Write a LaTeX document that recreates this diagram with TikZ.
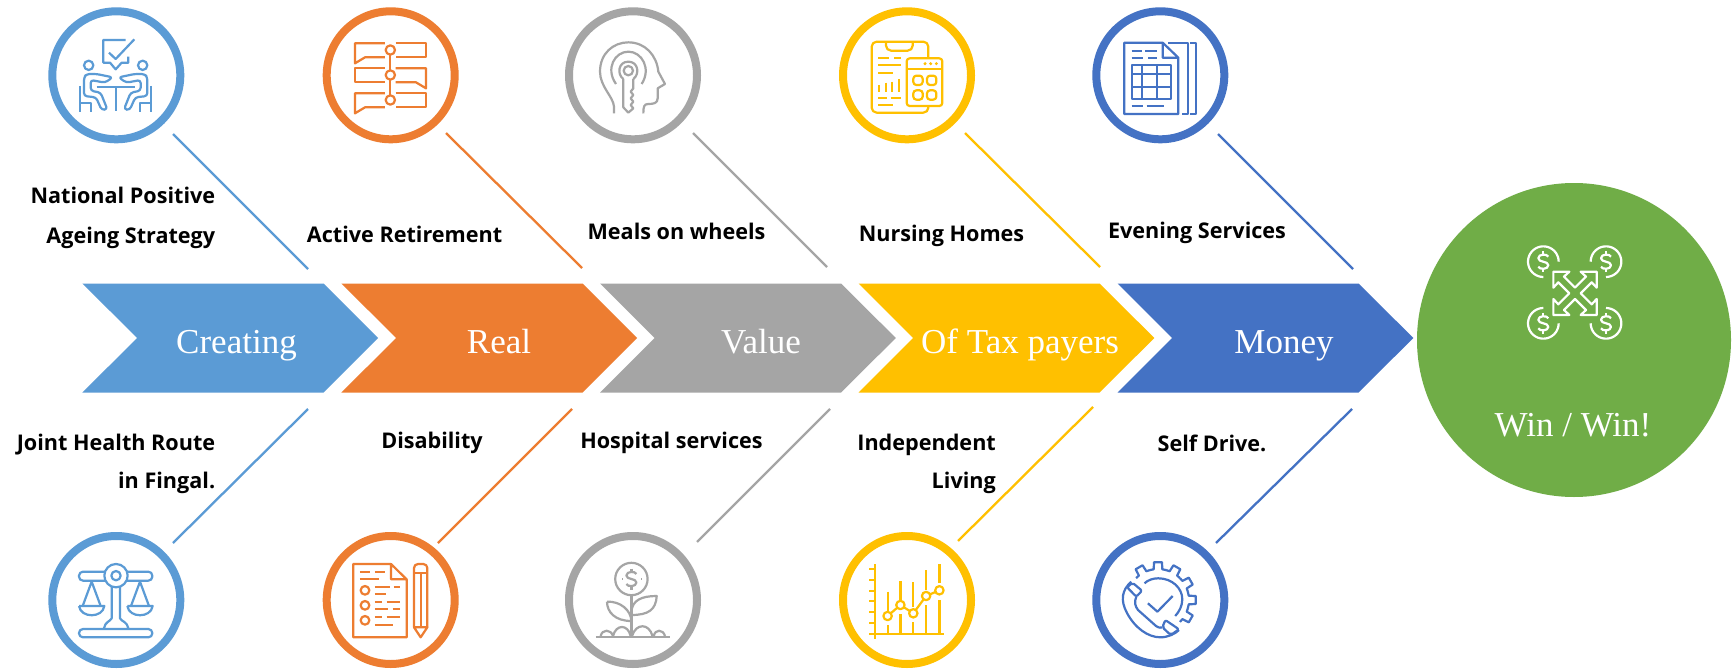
\documentclass[tikz,border=0pt]{standalone}
\usepackage{fontspec}
\newfontfamily\labelfont{Open Sans}
\newfontfamily\headfont{Liberation Serif}
\definecolor{lightblue}{HTML}{5B9BD5}
\definecolor{ochre}{HTML}{ED7D31}
\definecolor{midgray}{HTML}{A5A5A5}
\definecolor{gold}{HTML}{FFC000}
\definecolor{darkblue}{HTML}{4472C4}
\definecolor{leaf}{HTML}{70AD47}
\tikzset{
  ring/.style={circle, draw=#1, line width=8pt, fill=white, inner sep=0pt, minimum size=128pt},
  spoke/.style={draw=#1, line width=2.3pt},
  icon/.style={draw=#1, line width=2.2pt, line join=round},
  sidetext/.style={font=\labelfont\bfseries\fontsize{21.6}{40}\selectfont, text=black, inner sep=0pt},
  headtext/.style={font=\headfont\fontsize{35}{40}\selectfont, text=white, inner sep=0pt, anchor=base},
}
\newcommand{\dollarmark}[3]{
  \begin{scope}[shift={(#1,#2)}, icon=#3]
    \draw (5,-5) .. controls (4,-8) and (-5,-8) .. (-5,-3.5) .. controls (-5,1) and (5,-1) .. (5,3.5) .. controls (5,8) and (-4,8) .. (-5,5);
    \draw (0,-10.5) -- (0,-7.5);
    \draw (0,7.5) -- (0,10.5);
  \end{scope}
}
\begin{document}
\begin{tikzpicture}[x=1pt, y=-1pt]
  \useasboundingbox (0,0) rectangle (1735,669);
  \fill[white] (0,0) rectangle (1735,669);
  % chevrons
  \fill[lightblue] (82.4,283.5) -- (323.5,283.5) -- (378.2,338) -- (323.5,392.5) -- (82.4,392.5) -- (137.1,338) -- cycle;
  \fill[ochre] (341.4,283.5) -- (582.5,283.5) -- (637.2,338) -- (582.5,392.5) -- (341.4,392.5) -- (396.1,338) -- cycle;
  \fill[midgray] (600,283.5) -- (841.1,283.5) -- (895.8,338) -- (841.1,392.5) -- (600,392.5) -- (654.7,338) -- cycle;
  \fill[gold] (858.5,283.5) -- (1099.6,283.5) -- (1154.3,338) -- (1099.6,392.5) -- (858.5,392.5) -- (913.2,338) -- cycle;
  \fill[darkblue] (1117.5,283.5) -- (1358.6,283.5) -- (1413.3,338) -- (1358.6,392.5) -- (1117.5,392.5) -- (1172.2,338) -- cycle;
  \node[headtext] (creating) at (236.5,353) {Creating};
  \node[headtext] (real) at (499,353) {Real};
  \node[headtext] (value) at (761,353) {Value};
  \node[headtext] (taxpayers) at (1020,353) {Of Tax payers};
  \node[headtext] (money) at (1284,353) {Money};
  % result
  \node[circle, fill=leaf, inner sep=0pt, minimum size=314pt] (result) at (1574,340) {};
  \node[headtext] (winwin) at (1573,436.5) {Win / Win!};
  % rings
  \node[ring=lightblue] (ringa) at (116.3,75.3) {};
  \node[ring=ochre] (ringb) at (390.7,75.3) {};
  \node[ring=midgray] (ringc) at (633,75.3) {};
  \node[ring=gold] (ringd) at (907,75.3) {};
  \node[ring=darkblue] (ringe) at (1160.3,75.3) {};
  \node[ring=lightblue] (ringf) at (116.3,600) {};
  \node[ring=ochre] (ringg) at (390.7,600) {};
  \node[ring=midgray] (ringh) at (633,600) {};
  \node[ring=gold] (ringi) at (907,600) {};
  \node[ring=darkblue] (ringj) at (1160.3,600) {};
  % top spokes
  \coordinate (ta1) at (173,134);
  \coordinate (ta2) at (308,269);
  \coordinate (tb1) at (446,133);
  \coordinate (tb2) at (582,268);
  \coordinate (tc1) at (693,133);
  \coordinate (tc2) at (827,267);
  \coordinate (td1) at (965,133);
  \coordinate (td2) at (1100,267);
  \coordinate (te1) at (1218,134);
  \coordinate (te2) at (1353,269);
  \draw[spoke=lightblue] (ta1) -- (ta2);
  \draw[spoke=ochre] (tb1) -- (tb2);
  \draw[spoke=midgray] (tc1) -- (tc2);
  \draw[spoke=gold] (td1) -- (td2);
  \draw[spoke=darkblue] (te1) -- (te2);
  % bottom spokes
  \coordinate (ba1) at (173,543);
  \coordinate (ba2) at (308,409);
  \coordinate (bb1) at (438,543);
  \coordinate (bb2) at (572,409);
  \coordinate (bc1) at (697,542);
  \coordinate (bc2) at (830,409);
  \coordinate (bd1) at (958,541);
  \coordinate (bd2) at (1093,407);
  \coordinate (be1) at (1216,543);
  \coordinate (be2) at (1352,409);
  \draw[spoke=lightblue] (ba1) -- (ba2);
  \draw[spoke=ochre] (bb1) -- (bb2);
  \draw[spoke=midgray] (bc1) -- (bc2);
  \draw[spoke=gold] (bd1) -- (bd2);
  \draw[spoke=darkblue] (be1) -- (be2);
  % labels
  \node[sidetext, align=right, anchor=east] (positive) at (215.4,218) {National Positive\\Ageing Strategy};
  \node[sidetext] (retirement) at (404.6,234) {Active Retirement};
  \node[sidetext] (meals) at (676.5,231) {Meals on wheels};
  \node[sidetext] (nursing) at (941.5,236) {Nursing Homes};
  \node[sidetext] (evening) at (1197,233) {Evening Services};
  \node[sidetext, align=right, anchor=east] (joint) at (215.4,463.5) {Joint Health Route\\[-2pt]in Fingal.};
  \node[sidetext] (disability) at (432,443) {Disability};
  \node[sidetext] (hospital) at (671.5,443) {Hospital services};
  \node[sidetext, align=right, anchor=east] (independent) at (996,463.5) {Independent\\[-2pt]Living};
  \node[sidetext] (selfdrive) at (1212,443) {Self Drive.};
  % meeting icon
  \begin{scope}[shift={(30,0)}, scale=1/3, icon=lightblue]
    \draw (287,120) -- (220,120) -- (220,188) -- (240,188) -- (257,208) -- (275,188) -- (295,188) -- (295,170);
    \draw (237,158) -- (257,177) -- (313,118);
    \draw (176,196) circle (14);
    \draw (338,196) circle (14);
    \draw[rounded corners=3pt] (248,232) -- (200,222) -- (170,222) -- (162,232) -- (162,288) -- (198,292) -- (215,330) -- (232,328) -- (212,278) -- (182,272) -- (182,240) -- (225,248) -- cycle;
    \draw[rounded corners=3pt] (266,232) -- (314,222) -- (344,222) -- (352,232) -- (352,288) -- (316,292) -- (299,330) -- (282,328) -- (302,278) -- (332,272) -- (332,240) -- (289,248) -- cycle;
    \draw (200,262) -- (315,262);
    \draw (257,262) -- (257,333);
    \draw (150,258) -- (150,335);
    \draw (150,308) -- (183,308) -- (183,335);
    \draw (364,258) -- (364,335);
    \draw (364,308) -- (331,308) -- (331,335);
  \end{scope}
  % timeline icon
  \begin{scope}[shift={(30,0)}, scale=1/3, icon=ochre]
    \draw (1065,130) -- (975,130) -- (975,190) -- (1005,172) -- (1065,172);
    \draw (1065,205) -- (975,205) -- (975,247) -- (1065,247);
    \draw (1065,280) -- (975,280) -- (975,340) -- (1005,322) -- (1065,322);
    \draw (1097,130) -- (1188,130) -- (1188,172) -- (1097,172);
    \draw (1097,205) -- (1188,205) -- (1188,265) -- (1158,247) -- (1097,247);
    \draw (1097,280) -- (1188,280) -- (1188,322) -- (1097,322);
    \draw (1081,150) -- (1081,300);
    \draw[fill=white] (1081,150) circle (14);
    \draw[fill=white] (1081,225) circle (14);
    \draw[fill=white] (1081,300) circle (14);
  \end{scope}
  % head icon
  \begin{scope}[shift={(490,0)}, scale=1/3, icon=midgray]
    \draw (372,340) -- (372,320) .. controls (370,290) and (330,260) .. (330,215) .. controls (330,160) and (370,127) .. (415,127) .. controls (465,127) and (500,165) .. (505,215) -- (525,252) -- (503,265) -- (503,295) .. controls (503,310) and (490,312) .. (475,312) .. controls (462,312) and (460,320) .. (460,340);
    \draw (378,252) .. controls (345,205) and (375,155) .. (415,155) .. controls (455,155) and (485,205) .. (455,252);
    \draw (400,237) .. controls (380,222) and (385,185) .. (415,185) .. controls (445,185) and (450,222) .. (430,237);
    \draw (415,212) circle (14);
    \draw (400,237) -- (400,322) -- (415,338) -- (430,325) -- (422,315) -- (430,305) -- (422,295) -- (430,285) -- (422,275) -- (430,265) -- (430,237);
  \end{scope}
  % calculator icon
  \begin{scope}[shift={(860,10)}, scale=1/3, icon=gold]
    \draw[rounded corners=5pt] (205,143) -- (205,95) -- (35,95) -- (35,308) -- (205,308) -- (205,288);
    \draw[rounded corners=5pt] (78,97) -- (78,122) -- (158,122) -- (158,97);
    \draw[rounded corners=3pt] (140,145) rectangle (247,288);
    \draw (140,178) -- (247,178);
    \fill[gold] (195,161) circle (5);
    \fill[gold] (212,161) circle (5);
    \fill[gold] (229,161) circle (5);
    \draw[rounded corners=3pt] (160,197) rectangle (188,225);
    \draw[rounded corners=3pt] (201,197) rectangle (229,225);
    \draw[rounded corners=3pt] (160,241) rectangle (188,269);
    \draw[rounded corners=3pt] (201,241) rectangle (229,269);
    \draw (55,144) -- (87,144);
    \draw (102,144) -- (122,144);
    \draw (55,166) -- (122,166);
    \draw (55,188) -- (100,188);
    \draw (58,225) -- (58,245);
    \draw (77,218) -- (77,245);
    \draw (97,215) -- (97,245);
    \draw (118,207) -- (118,245);
    \draw (55,264) -- (80,264);
    \draw (92,264) -- (122,264);
    \draw (55,285) -- (100,285);
  \end{scope}
  % sheet icon
  \begin{scope}[shift={(860,10)}, scale=1/3, icon=darkblue]
    \draw (908,98) -- (793,98) -- (793,312) -- (955,312) -- (955,143) -- (908,98) -- (908,143) -- (955,143);
    \draw (925,98) -- (985,98) -- (985,312) -- (965,312);
    \draw (990,98) -- (1008,98) -- (1008,312) -- (990,312);
    \draw (815,122) -- (845,122);
    \draw (855,122) -- (890,122);
    \draw (815,143) -- (850,143);
    \draw (865,143) -- (890,143);
    \draw (815,288) -- (850,288);
    \draw (860,288) -- (912,288);
    \draw (817,165) rectangle (934,266);
    \draw (845,165) -- (845,266);
    \draw (890,165) -- (890,266);
    \draw (817,192) -- (934,192);
    \draw (817,230) -- (934,230);
  \end{scope}
  % scales icon
  \begin{scope}[shift={(60,540)}, scale=1/3, icon=lightblue]
    \draw[rounded corners=4pt] (57,95) rectangle (277,122);
    \draw[rounded corners=4pt] (57,267) rectangle (277,292);
    \draw (155,140) -- (155,235) .. controls (150,245) and (135,245) .. (132,265);
    \draw (180,140) -- (180,235) .. controls (185,245) and (202,245) .. (205,265);
    \draw[fill=white] (168,107) circle (35);
    \draw (168,107) circle (14);
    \draw (68,198) -- (95,125) -- (122,198);
    \draw (213,198) -- (240,125) -- (267,198);
    \draw (57,198) -- (133,198) .. controls (128,235) and (62,235) .. (57,198);
    \draw (202,198) -- (278,198) .. controls (273,235) and (207,235) .. (202,198);
  \end{scope}
  % checklist icon
  \begin{scope}[shift={(60,540)}, scale=1/3, icon=ochre]
    \draw (993,72) -- (880,72) -- (880,292) -- (1040,292) -- (1040,118) -- (993,72) -- (993,118) -- (1040,118);
    \draw (900,95) -- (930,95);
    \draw (945,95) -- (975,95);
    \draw (900,118) -- (957,118);
    \draw (915,151) circle (13);
    \draw (915,196) circle (13);
    \draw (915,241) circle (13);
    \draw (945,140) -- (990,140);
    \draw (1002,140) -- (1020,140);
    \draw (945,162) -- (978,162);
    \draw (945,185) -- (965,185);
    \draw (980,185) -- (1020,185);
    \draw (945,208) -- (985,208);
    \draw (998,208) -- (1020,208);
    \draw (945,231) -- (965,231);
    \draw (980,231) -- (1020,231);
    \draw (945,254) -- (998,254);
    \draw[rounded corners=4pt] (1062,262) -- (1062,72) -- (1102,72) -- (1102,262);
    \draw (1062,262) -- (1082,292) -- (1102,262) -- cycle;
    \draw (1062,100) -- (1102,100);
    \draw (1082,100) -- (1082,262);
  \end{scope}
  % plant icon
  \begin{scope}[icon=midgray]
    \draw (631.4,579) circle (16.2);
    \draw (622,579) -- (622.5,579);
    \draw (641,579) -- (641.5,579);
    \draw (631.4,595) -- (631.4,637);
    \draw (631.4,612) .. controls (632,600) and (642,596) .. (656.7,596) .. controls (656,610) and (648,615) .. (631.4,615);
    \draw (607,601.7) .. controls (620,601) and (631,610) .. (631.4,621) .. controls (615,621) and (607,612) .. (607,601.7);
    \draw (595.8,637) -- (670,637);
    \draw (600.7,636) .. controls (602,629) and (611,629) .. (613,636);
    \draw (613,636) .. controls (616,624) and (628,624) .. (630.6,636);
    \draw (632,636) .. controls (636,623) and (649,623) .. (652.5,636);
    \draw (653.8,636) .. controls (655,629) and (663,629) .. (665,636);
  \end{scope}
  \dollarmark{631.4}{579}{midgray}
  % chart icon
  \begin{scope}[icon=gold]
    \draw (874.7,564) -- (874.7,638.7);
    \draw (869.3,569.3) -- (874.7,569.3);
    \draw (869.3,580) -- (874.7,580);
    \draw (869.3,590.7) -- (874.7,590.7);
    \draw (869.3,601.3) -- (874.7,601.3);
    \draw (869.3,612) -- (874.7,612);
    \draw (869.3,622.7) -- (874.7,622.7);
    \draw (869.3,633.7) -- (944,633.7);
    \draw (887.6,591.7) -- (887.6,610.7);
    \draw (887.6,625) -- (887.6,633.7);
    \draw (900.4,581.3) -- (900.4,600);
    \draw (900.4,614) -- (900.4,633.7);
    \draw (913.3,582.3) -- (913.3,606.7);
    \draw (913.3,622) -- (913.3,633.7);
    \draw (926.1,570.3) -- (926.1,590);
    \draw (926.1,605.3) -- (926.1,633.7);
    \draw (939.4,564) -- (939.4,583.3);
    \draw (939.4,600) -- (939.4,633.7);
    \draw (887.6,616) -- (900.4,605) -- (913.3,613.3) -- (926.1,596) -- (939.4,590.3);
    \draw[fill=white] (887.6,616) circle (4.2);
    \draw[fill=white] (900.4,605) circle (4.2);
    \draw[fill=white] (913.3,613.3) circle (4.2);
    \draw[fill=white] (926.1,596) circle (4.2);
    \draw[fill=white] (939.4,590.3) circle (4.2);
  \end{scope}
  % support icon
  \begin{scope}[shift={(1158,600)}, icon=darkblue]
    \foreach \ang in {-120,-90,-60,-30,0,30} {
      \draw (\ang-15:31) -- (\ang-8:31) -- (\ang-6:38) -- (\ang+6:38) -- (\ang+8:31) -- (\ang+15:31);
    }
  \end{scope}
  \begin{scope}[icon=darkblue]
    \draw (1147.9,603.3) -- (1157.4,611.7) -- (1172.7,596);
    \draw (1144.5,583.3) .. controls (1148,580) and (1153,578.3) .. (1158.2,578.3) .. controls (1172,578.3) and (1182.3,588) .. (1182.3,599.3) .. controls (1182.3,606) and (1179,612) .. (1175.2,616);
    \draw (1131.2,581.7) .. controls (1122,590) and (1120,600) .. (1127,613) .. controls (1135,628) and (1148,637.3) .. (1160.3,637.3) .. controls (1168,637.3) and (1175,634) .. (1179,630);
    \draw[rounded corners=2pt] (1127.1,587.3) -- (1132.5,582.7) -- (1142,590.7) -- (1136.3,596.7) -- cycle;
    \draw[rounded corners=2pt] (1165.3,620) -- (1179,629.3) -- (1170.7,635) -- (1162.4,627.3) -- cycle;
    \draw (1136.3,596.7) .. controls (1134,602) and (1135,606) .. (1138,610) -- (1156,626) .. controls (1159,628) and (1161,628) .. (1162.4,627.3);
  \end{scope}
  % exchange icon
  \begin{scope}[shift={(1490,220)}, scale=1/3, icon=white]
    \draw plot[samples=30, domain=90:360] ({160+46*cos(\x)},{125+46*sin(\x)});
    \draw plot[samples=30, domain=180:450] ({348+46*cos(\x)},{125+46*sin(\x)});
    \draw plot[samples=30, domain=0:270] ({160+46*cos(\x)},{310+46*sin(\x)});
    \draw plot[samples=30, domain=-90:180] ({348+46*cos(\x)},{310+46*sin(\x)});
    \draw (190,155) -- (238,155) -- (222,170) -- (255,203) -- (288,170) -- (272,155) -- (320,155) -- (320,203) -- (305,187) -- (272,220) -- (305,253) -- (320,237) -- (320,285) -- (272,285) -- (288,270) -- (255,237) -- (222,270) -- (238,285) -- (190,285) -- (190,237) -- (205,253) -- (238,220) -- (205,187) -- (190,203) -- cycle;
  \end{scope}
  \dollarmark{1543.3}{261.7}{white}
  \dollarmark{1606}{261.7}{white}
  \dollarmark{1543.3}{323.3}{white}
  \dollarmark{1606}{323.3}{white}
\end{tikzpicture}
\end{document}
